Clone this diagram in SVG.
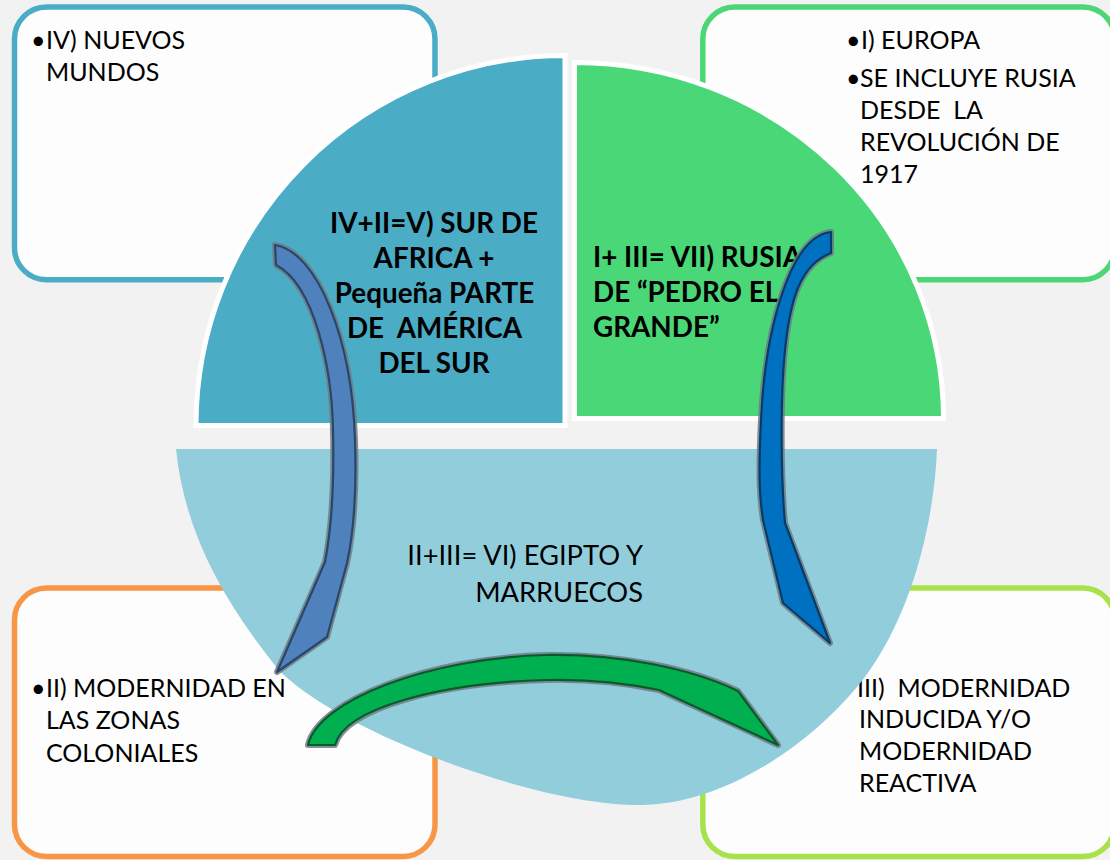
<svg xmlns="http://www.w3.org/2000/svg" width="1110" height="860" viewBox="0 0 1110 860">
<style>
.box{fill:#fdfdfd;stroke-width:5.5}
.t{font-family:Lato,"Open Sans","Liberation Sans",sans-serif;font-size:25px;fill:#000}
.c{font-family:Lato,"Open Sans","Liberation Sans",sans-serif;font-size:27.3px;fill:#000}
.b{font-family:Lato,"Open Sans","Liberation Sans",sans-serif;font-size:27.8px;font-weight:bold;fill:#000}
.q{stroke:#fff;stroke-width:5}
.halo{fill:none;stroke:#6f7c86;stroke-width:6;stroke-linejoin:round;stroke-opacity:0.85}
</style>
<defs>
<path id="arrL" d="M275,245 C318,252 352,340 355,440 C357,500 352,540 347,563 L327,637 L277,672 L325,562 C333,520 334,470 333,430 C332,370 315,285 276,265 Z"/>
<path id="arrR" d="M831,232 C790,236 765,330 761,420 C758,480 760,500 763,520 L783,603 L830,643 L785,523 C781,480 780,400 785,350 C790,300 800,265 831,253 Z"/>
<path id="arrB" d="M308,745 C318,700 430,658 546,655 C620,654 690,668 738,691 L778,745 L659,690 C620,682 580,679 546,680 C440,683 345,708 335,745 Z"/>
</defs>
<rect width="1110" height="860" fill="#f2f2f2"/>
<g id="box-iv">
<rect class="box" x="14.5" y="7" width="420.5" height="272.7" rx="32" stroke="#4bacc6"/>
<text class="t"><tspan x="31" y="49">•</tspan><tspan x="46" y="49">IV) NUEVOS</tspan></text>
<text class="t" x="46" y="81">MUNDOS</text>
</g>
<g id="box-i">
<rect class="box" x="702.8" y="7" width="412" height="272.7" rx="32" stroke="#4cd675"/>
<text class="t"><tspan x="846" y="49">•</tspan><tspan x="861" y="49">I) EUROPA</tspan></text>
<text class="t"><tspan x="846" y="87">•</tspan><tspan x="860" y="87">SE INCLUYE RUSIA</tspan></text>
<text class="t" x="860" y="118.5" xml:space="preserve">DESDE  LA</text>
<text class="t" x="860" y="150.5">REVOLUCIÓN DE</text>
<text class="t" x="860" y="182.5">1917</text>
</g>
<g id="box-ii">
<rect class="box" x="14.5" y="588" width="420.5" height="268.5" rx="32" stroke="#f79646"/>
<text class="t"><tspan x="31" y="696.5">•</tspan><tspan x="46" y="696.5">II) MODERNIDAD EN</tspan></text>
<text class="t" x="46" y="729">LAS ZONAS</text>
<text class="t" x="46" y="761.5">COLONIALES</text>
</g>
<g id="box-iii">
<rect class="box" x="702.8" y="588" width="412" height="268.5" rx="32" stroke="#a8e24a"/>
<text class="t" x="857" y="696.5" xml:space="preserve">III)  MODERNIDAD</text>
<text class="t" x="859" y="728">INDUCIDA Y/O</text>
<text class="t" x="859" y="760">MODERNIDAD</text>
<text class="t" x="859" y="791.5">REACTIVA</text>
</g>
<g id="seg-v">
<path class="q" fill="#4bacc6" d="M565,425.5 L196,425.5 A369,370 0 0 1 565,55.5 Z"/>
<text class="b" text-anchor="middle" x="434" y="232.5">IV+II=V) SUR DE</text>
<text class="b" text-anchor="middle" x="434" y="268">AFRICA +</text>
<text class="b" text-anchor="middle" x="434.5" y="303">Pequeña PARTE</text>
<text class="b" text-anchor="middle" x="434.5" y="338" xml:space="preserve">DE  AMÉRICA</text>
<text class="b" text-anchor="middle" x="434" y="373">DEL SUR</text>
</g>
<g id="seg-vii">
<path class="q" fill="#4ad777" d="M574.5,418.5 L574.5,62.5 A369,356 0 0 1 943.5,418.5 Z"/>
<text class="b" x="593" y="266.5">I+ III= VII) RUSIA</text>
<text class="b" x="593" y="301.5">DE “PEDRO EL</text>
<text class="b" x="593" y="336.5">GRANDE”</text>
</g>
<g id="seg-vi">
<path fill="#92cddc" d="M176,449 L937,449 C933.8,529 908.2,625.4 857,687 C805.8,748.6 720,805 640,805 C530,805 330.6,727.2 277,668 C221,598 184,529 176,449 Z"/>
<text class="c" text-anchor="end" x="643" y="565">II+III= VI) EGIPTO Y</text>
<text class="c" text-anchor="end" x="643" y="601.5">MARRUECOS</text>
</g>
<g id="connectors">
<use href="#arrL" class="halo"/>
<use href="#arrL" fill="#4f81bd" stroke="#2a4669" stroke-width="2.2" stroke-linejoin="round"/>
<use href="#arrR" class="halo"/>
<use href="#arrR" fill="#0070c0" stroke="#083c68" stroke-width="2.2" stroke-linejoin="round"/>
<use href="#arrB" class="halo"/>
<use href="#arrB" fill="#00b050" stroke="#0b5a2c" stroke-width="2.2" stroke-linejoin="round"/>
</g>
</svg>
